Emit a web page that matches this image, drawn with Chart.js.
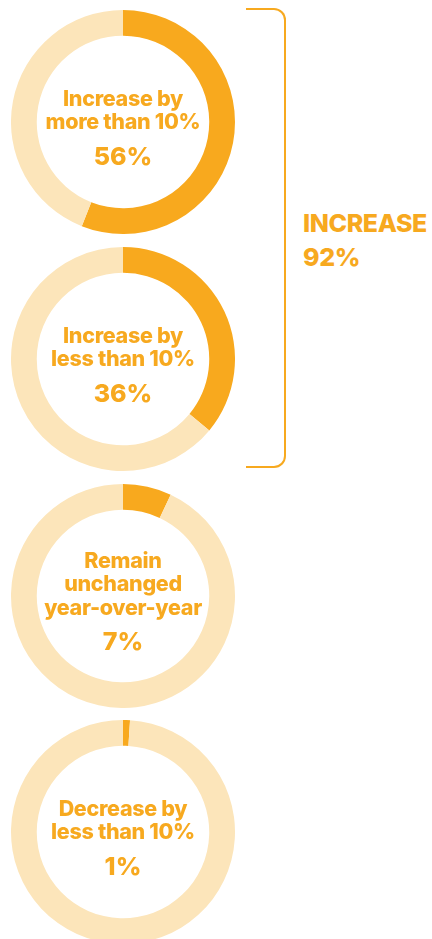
<!DOCTYPE html>
<html>
<head>
<meta charset="utf-8">
<script src="https://cdn.jsdelivr.net/npm/chart.js@4/dist/chart.umd.min.js"></script>
<style>
  html, body { margin: 0; padding: 0; background: #fff; }
  body { width: 432px; height: 939px; position: relative; overflow: hidden;
         font-family: Inter, Roboto, "Noto Sans", sans-serif; font-weight: 800; color: #F7A91F; }
  .ring { position: absolute; left: 11px; width: 224px; height: 224px; }
  .ring canvas { position: absolute; left: 0; top: 0; }
  .label { position: absolute; left: 0; width: 224px; text-align: center; }
  .label .txt { font-size: 21.5px; line-height: 23.5px; letter-spacing: -0.3px; }
  .label .pct { font-size: 25px; line-height: 30px; margin-top: 7px; letter-spacing: 0px; }
  #bracket { position: absolute; left: 246px; top: 8px; width: 38px; height: 456px;
             border: 2px solid #F7A91F; border-left: none; border-radius: 0 12px 12px 0; }
  #group { position: absolute; left: 303px; top: 206px; font-size: 25px; line-height: 34px;
           letter-spacing: -0.4px; }
</style>
</head>
<body>
<div id="rings"></div>
<div id="bracket"></div>
<div id="group"></div>

<script>
// survey answers, one doughnut each
var categories = [
  ["Increase by", "more than 10%"],
  ["Increase by", "less than 10%"],
  ["Remain", "unchanged", "year-over-year"],
  ["Decrease by", "less than 10%"]
];
var shares = [56, 36, 7, 1];
var groupLabel = "INCREASE";
var groupShare = 92;

var ringTops = [10, 247, 484, 720];
var orange = "#F8A91E";
var pale = "#FCE5BA";

var holder = document.getElementById("rings");

function renderRing(i) {
  var box = document.createElement("div");
  box.className = "ring";
  box.style.top = ringTops[i] + "px";
  var canvas = document.createElement("canvas");
  canvas.width = 224;
  canvas.height = 224;
  box.appendChild(canvas);

  var label = document.createElement("div");
  label.className = "label";
  categories[i].forEach(function (line) {
    var d = document.createElement("div");
    d.className = "txt";
    d.textContent = line;
    label.appendChild(d);
  });
  var pct = document.createElement("div");
  pct.className = "pct";
  pct.textContent = shares[i] + "%";
  label.appendChild(pct);
  box.appendChild(label);
  holder.appendChild(box);

  // first text line and the percentage sit evenly around a point just below centre
  var first = label.firstChild;
  var firstMid = first.offsetTop + first.offsetHeight / 2;
  var pctMid = pct.offsetTop + pct.offsetHeight / 2;
  label.style.top = (117 - (firstMid + pctMid) / 2) + "px";

  new Chart(canvas.getContext("2d"), {
    type: "doughnut",
    data: {
      labels: [categories[i].join(" "), "Other"],
      datasets: [{
        data: [shares[i], 100 - shares[i]],
        backgroundColor: [orange, pale],
        borderWidth: 0
      }]
    },
    options: {
      responsive: false,
      animation: false,
      cutout: "77%",
      layout: { padding: 0 },
      plugins: { legend: { display: false }, tooltip: { enabled: false } }
    }
  });
}

for (var i = 0; i < shares.length; i++) {
  renderRing(i);
}

document.getElementById("group").innerHTML =
  groupLabel + "<br>" + groupShare + "%";
</script>
</body>
</html>
